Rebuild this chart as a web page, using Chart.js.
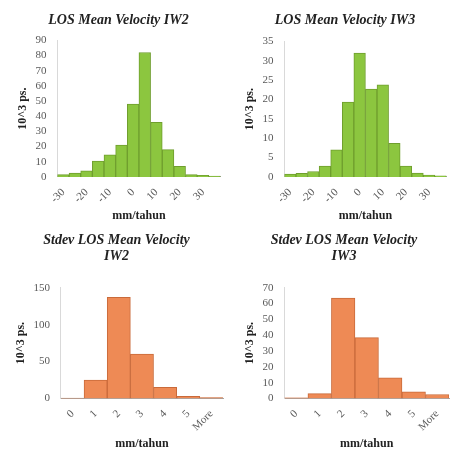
<!DOCTYPE html>
<html>
<head>
<meta charset="utf-8">
<script src="https://cdn.jsdelivr.net/npm/chart.js@4/dist/chart.umd.min.js"></script>
<style>
  html, body { margin: 0; padding: 0; background: #fff; }
  .cell { position: absolute; }
</style>
</head>
<body>
<div class="cell" style="left:0;top:0;width:225px;height:225px"><canvas id="c1"></canvas></div>
<div class="cell" style="left:225px;top:0;width:226px;height:225px"><canvas id="c2"></canvas></div>
<div class="cell" style="left:0;top:225px;width:225px;height:228px"><canvas id="c3"></canvas></div>
<div class="cell" style="left:225px;top:225px;width:226px;height:228px"><canvas id="c4"></canvas></div>
<script>
// ===================== Data =====================
const velocityBins = ['-30', '-25', '-20', '-15', '-10', '-5', '0', '5', '10', '15', '20', '25', '30', '35'];
const velocityTickLabels = ['-30', '', '-20', '', '-10', '', '0', '', '10', '', '20', '', '30', ''];
const iw2Velocity = [1.5, 2.5, 4, 10.5, 14.5, 21, 48, 82, 36, 18, 7, 1.5, 1, 0.5];
const iw3Velocity = [0.7, 0.9, 1.4, 2.8, 7, 19.3, 32, 22.7, 23.8, 8.7, 2.8, 1, 0.5, 0.3];

const stdevBins = ['0', '1', '2', '3', '4', '5', 'More'];
const iw2Stdev = [0.5, 25, 137, 60, 15, 3, 1];
const iw3Stdev = [0.3, 3, 63.5, 38.5, 13, 4.2, 2.5];

const GREEN = '#8cc63f', GREEN_EDGE = '#6f9e2e';
const ORANGE = '#ee8a55', ORANGE_EDGE = '#c96a3a';

// ===================== Chart Helper =====================
function makeHistogram(id, cfg) {
    const ctx = document.getElementById(id).getContext('2d');
    return new Chart(ctx, {
        type: 'bar',
        data: {
            labels: cfg.labels,
            datasets: [{
                data: cfg.values,
                backgroundColor: cfg.color,
                borderColor: cfg.edge,
                borderWidth: 1,
                categoryPercentage: 1,
                barPercentage: 1
            }]
        },
        options: {
            responsive: true,
            maintainAspectRatio: false,
            animation: false,
            layout: { padding: cfg.padding },
            plugins: {
                legend: { display: false },
                tooltip: { enabled: false },
                title: {
                    display: true,
                    text: cfg.title,
                    color: '#222',
                    font: { family: 'Liberation Serif', size: 14, weight: 'bold', style: 'italic', lineHeight: 1.1 },
                    padding: { top: 0, bottom: cfg.titleGap }
                }
            },
            scales: {
                x: {
                    grid: { display: false },
                    border: { color: '#a6a6a6' },
                    ticks: {
                        autoSkip: false,
                        minRotation: 45,
                        maxRotation: 45,
                        padding: 1,
                        color: '#595959',
                        font: { family: 'Liberation Serif', size: 11 },
                        callback: (v, i) => cfg.tickLabels[i]
                    },
                    title: {
                        display: true,
                        text: 'mm/tahun',
                        color: '#222',
                        font: { family: 'Liberation Serif', size: 12, weight: 'bold' },
                        padding: { top: 2, bottom: 0 }
                    }
                },
                y: {
                    min: 0,
                    max: cfg.max,
                    grid: { display: false },
                    border: { color: '#d9d9d9' },
                    ticks: {
                        stepSize: cfg.step,
                        autoSkip: false,
                        color: '#595959',
                        font: { family: 'Liberation Serif', size: 11 }
                    },
                    title: {
                        display: true,
                        text: '10^3 ps.',
                        color: '#222',
                        font: { family: 'Liberation Serif', size: 12, weight: 'bold' },
                        padding: { bottom: 2 }
                    }
                }
            }
        }
    });
}

// ===================== Charts =====================
makeHistogram('c1', {
    title: 'LOS Mean Velocity IW2',
    labels: velocityBins, tickLabels: velocityTickLabels, values: iw2Velocity,
    color: GREEN, edge: GREEN_EDGE, max: 90, step: 10, titleGap: 12,
    padding: { left: 12, right: 0, top: 13, bottom: 2 }
});
makeHistogram('c2', {
    title: 'LOS Mean Velocity IW3',
    labels: velocityBins, tickLabels: velocityTickLabels, values: iw3Velocity,
    color: GREEN, edge: GREEN_EDGE, max: 35, step: 5, titleGap: 13,
    padding: { left: 14, right: 0, top: 13, bottom: 2 }
});
makeHistogram('c3', {
    title: ['Stdev LOS Mean Velocity', 'IW2'],
    labels: stdevBins, tickLabels: stdevBins, values: iw2Stdev,
    color: ORANGE, edge: ORANGE_EDGE, max: 150, step: 50, titleGap: 24,
    padding: { left: 10, right: 2, top: 8, bottom: 2 }
});
makeHistogram('c4', {
    title: ['Stdev LOS Mean Velocity', 'IW3'],
    labels: stdevBins, tickLabels: stdevBins, values: iw3Stdev,
    color: ORANGE, edge: ORANGE_EDGE, max: 70, step: 10, titleGap: 24,
    padding: { left: 14, right: 2, top: 8, bottom: 2 }
});
</script>
</body>
</html>
